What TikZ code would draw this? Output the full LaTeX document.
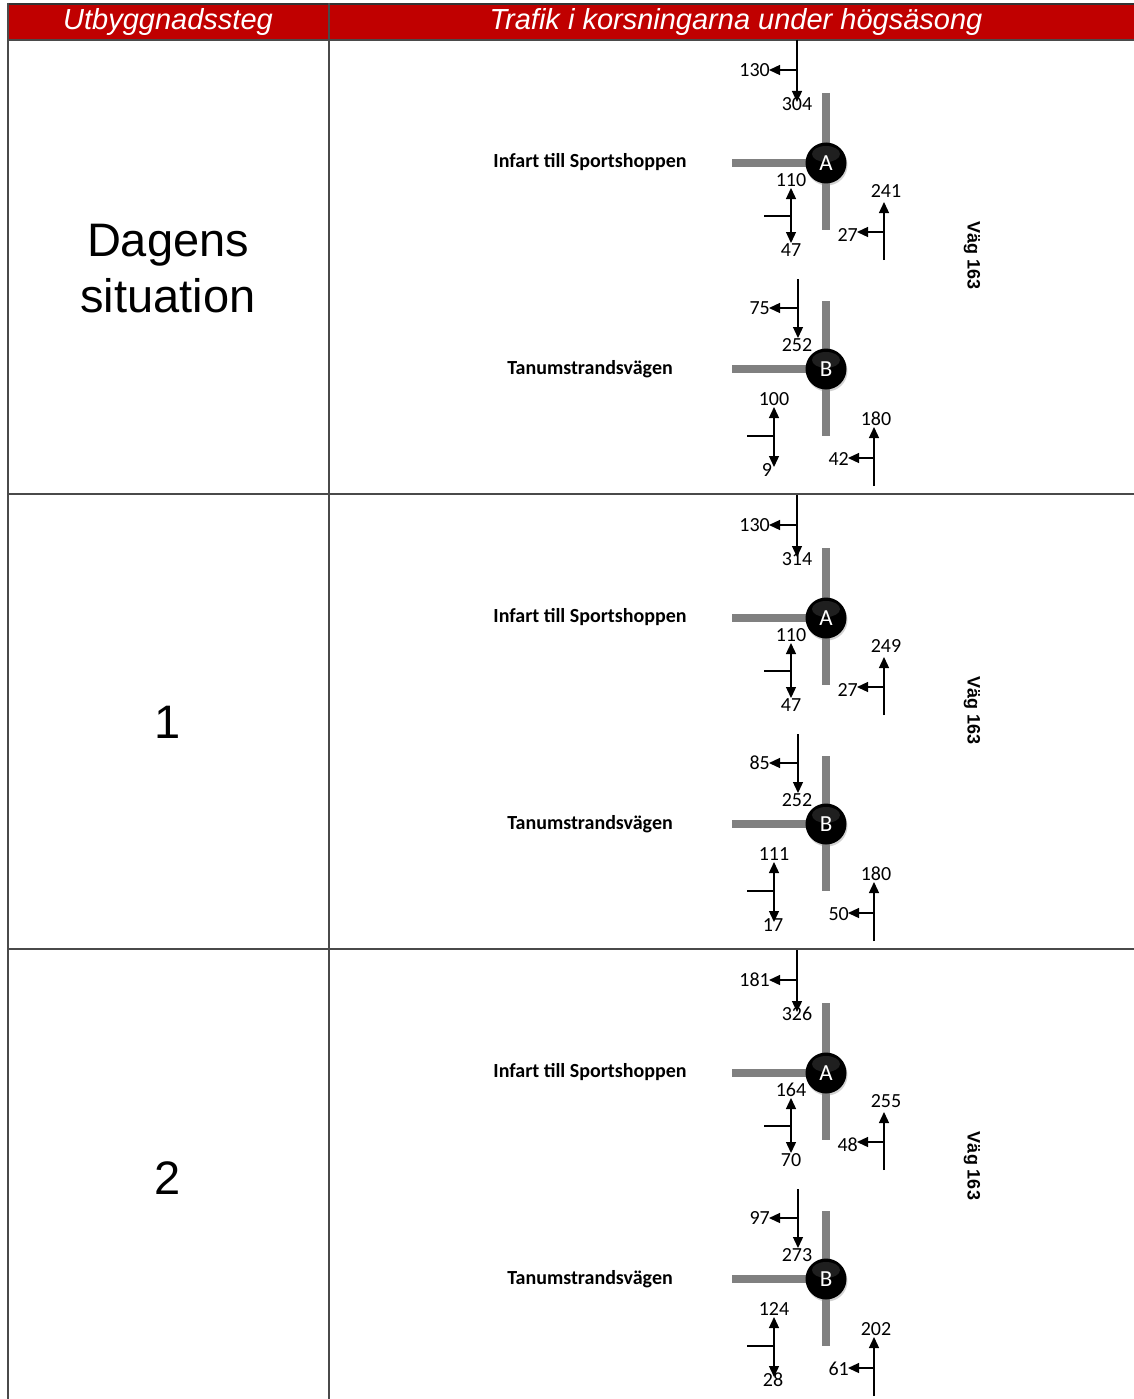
\documentclass[tikz,border=0pt]{standalone}
\usepackage{fontspec}
\setmainfont{Liberation Sans}
\newfontfamily\calib{Carlito}
\usetikzlibrary{arrows.meta,shadows}

\definecolor{hdrred}{HTML}{C00000}
\definecolor{gridline}{HTML}{4A4A4A}
\definecolor{road}{HTML}{808080}

\tikzset{
  flow/.style={line width=1.3pt, -{Triangle[length=11pt,width=10pt]}},
  stub/.style={line width=1.3pt},
  roadline/.style={road, line width=8pt},
  count/.style={font=\calib\fontsize{20}{22}\selectfont, inner sep=0pt},
  street/.style={font=\calib\bfseries\fontsize{20}{22}\selectfont, inner sep=0pt},
  vaglabel/.style={font=\bfseries\fontsize{18}{20}\selectfont, inner sep=0pt, rotate=-90},
  junction/.style={circle, fill=black, minimum size=41pt, inner sep=0pt,
    text=white, font=\calib\fontsize{23}{24}\selectfont,
    drop shadow={opacity=0.35, shadow xshift=1pt, shadow yshift=-2pt}},
  grid/.style={gridline, line width=2pt},
  hdrtext/.style={text=white, font=\itshape\fontsize{29}{32}\selectfont, inner sep=0pt},
  stage/.style={font=\fontsize{47}{56}\selectfont, align=center, inner sep=0pt},
}

% Junction A: #1 name, #2 centre y, #3..#8 counts
\newcommand\junctionA[8]{%
\begin{scope}[shift={(826,#2)}]
  \coordinate (#1-rt) at (0,-70); \coordinate (#1-rb) at (0,67);
  \coordinate (#1-rl) at (-94,0); \coordinate (#1-rc) at (0,0);
  \draw[roadline] (#1-rt) -- (#1-rb);
  \draw[roadline] (#1-rl) -- (#1-rc);
  \node[junction] (#1) at (0,0) {A};
  \fill[white, opacity=0.12] (0,-9) ellipse (14 and 8);
  % southbound flow on the main road
  \coordinate (#1-p1) at (-29,-123); \coordinate (#1-p2) at (-29,-61);
  \coordinate (#1-p3) at (-29,-93); \coordinate (#1-p4) at (-57,-93);
  \draw[flow] (#1-p1) -- (#1-p2);
  \draw[flow] (#1-p3) -- (#1-p4);
  % flow from the side road
  \coordinate (#1-q0) at (-62,53); \coordinate (#1-q1) at (-35,53);
  \coordinate (#1-q2) at (-35,25); \coordinate (#1-q3) at (-35,80);
  \draw[stub] (#1-q0) -- (#1-q1);
  \draw[flow] (#1-q1) -- (#1-q2);
  \draw[flow] (#1-q1) -- (#1-q3);
  % northbound flow on the main road
  \coordinate (#1-s1) at (58,97); \coordinate (#1-s2) at (58,39);
  \coordinate (#1-s3) at (58,69); \coordinate (#1-s4) at (31,69);
  \draw[flow] (#1-s1) -- (#1-s2);
  \draw[flow] (#1-s3) -- (#1-s4);
  \node[count, anchor=east] (#1-n1) at (-56,-93) {#3};
  \node[count] (#1-n2) at (-29,-59) {#4};
  \node[count] (#1-n3) at (-35,17) {#5};
  \node[count] (#1-n4) at (-35,87) {#6};
  \node[count] (#1-n5) at (60,28) {#7};
  \node[count, anchor=east] (#1-n6) at (32,72) {#8};
\end{scope}}

% Junction B: #1 name, #2 centre y, #3..#8 counts
\newcommand\junctionB[8]{%
\begin{scope}[shift={(826,#2)}]
  \coordinate (#1-rt) at (0,-68); \coordinate (#1-rb) at (0,67);
  \coordinate (#1-rl) at (-94,0); \coordinate (#1-rc) at (0,0);
  \draw[roadline] (#1-rt) -- (#1-rb);
  \draw[roadline] (#1-rl) -- (#1-rc);
  \node[junction] (#1) at (0,0) {B};
  \fill[white, opacity=0.12] (0,-9) ellipse (14 and 8);
  \coordinate (#1-p1) at (-28,-90); \coordinate (#1-p2) at (-28,-31);
  \coordinate (#1-p3) at (-28,-61); \coordinate (#1-p4) at (-57,-61);
  \draw[flow] (#1-p1) -- (#1-p2);
  \draw[flow] (#1-p3) -- (#1-p4);
  \coordinate (#1-q0) at (-79,67); \coordinate (#1-q1) at (-52,67);
  \coordinate (#1-q2) at (-52,38); \coordinate (#1-q3) at (-52,98);
  \draw[stub] (#1-q0) -- (#1-q1);
  \draw[flow] (#1-q1) -- (#1-q2);
  \draw[flow] (#1-q1) -- (#1-q3);
  \coordinate (#1-s1) at (48,117); \coordinate (#1-s2) at (48,58);
  \coordinate (#1-s3) at (48,89); \coordinate (#1-s4) at (22,89);
  \draw[flow] (#1-s1) -- (#1-s2);
  \draw[flow] (#1-s3) -- (#1-s4);
  \node[count, anchor=east] (#1-n1) at (-56,-61) {#3};
  \node[count] (#1-n2) at (-29,-24) {#4};
  \node[count] (#1-n3) at (-52,30) {#5};
  \node[count] (#1-n4) at (-53,101) {#6};
  \node[count] (#1-n5) at (50,50) {#7};
  \node[count, anchor=east] (#1-n6) at (23,90) {#8};
\end{scope}}

\begin{document}
\begin{tikzpicture}[x=1pt, y=-1pt]
  \useasboundingbox (0,0) rectangle (1134,1399);
  \fill[white] (0,0) rectangle (1134,1399);

  % header band
  \fill[hdrred] (8,5) rectangle (1134,40);
  \node[hdrtext] (h1) at (168,22.5) {Utbyggnadssteg};
  \node[hdrtext] (h2) at (736,22.5) {Trafik i korsningarna under högsäsong};

  % table rules
  \draw[grid, line width=2.5pt, black!80] (8,4) -- (1134,4);
  \draw[grid] (8,40) -- (1134,40);
  \draw[grid] (8,494) -- (1134,494);
  \draw[grid] (8,949) -- (1134,949);
  \draw[grid] (8,3) -- (8,1399);
  \draw[grid] (329,3) -- (329,1399);

  % stage column
  \node[stage] (st0) at (168,269) {Dagens\\situation};
  \node[stage] (st1) at (168,722) {1};
  \node[stage] (st2) at (168,1178) {2};

  % street names and main road
  \foreach \r/\ya/\yb in {0/163/369, 1/618/824, 2/1073/1279} {
    \node[street] (inf\r) at (590,\ya-1) {Infart till Sportshoppen};
    \node[street] (tan\r) at (590,\yb) {Tanumstrandsvägen};
    \node[vaglabel] (vag\r) at (972,\ya+93) {Väg 163};
  }

  \junctionA{A0}{163}{130}{304}{110}{47}{241}{27}
  \junctionB{B0}{369}{75}{252}{100}{9\kern12pt}{180}{42}
  \junctionA{A1}{618}{130}{314}{110}{47}{249}{27}
  \junctionB{B1}{824}{85}{252}{111}{17}{180}{50}
  \junctionA{A2}{1073}{181}{326}{164}{70}{255}{48}
  \junctionB{B2}{1279}{97}{273}{124}{28}{202}{61}
\end{tikzpicture}
\end{document}
